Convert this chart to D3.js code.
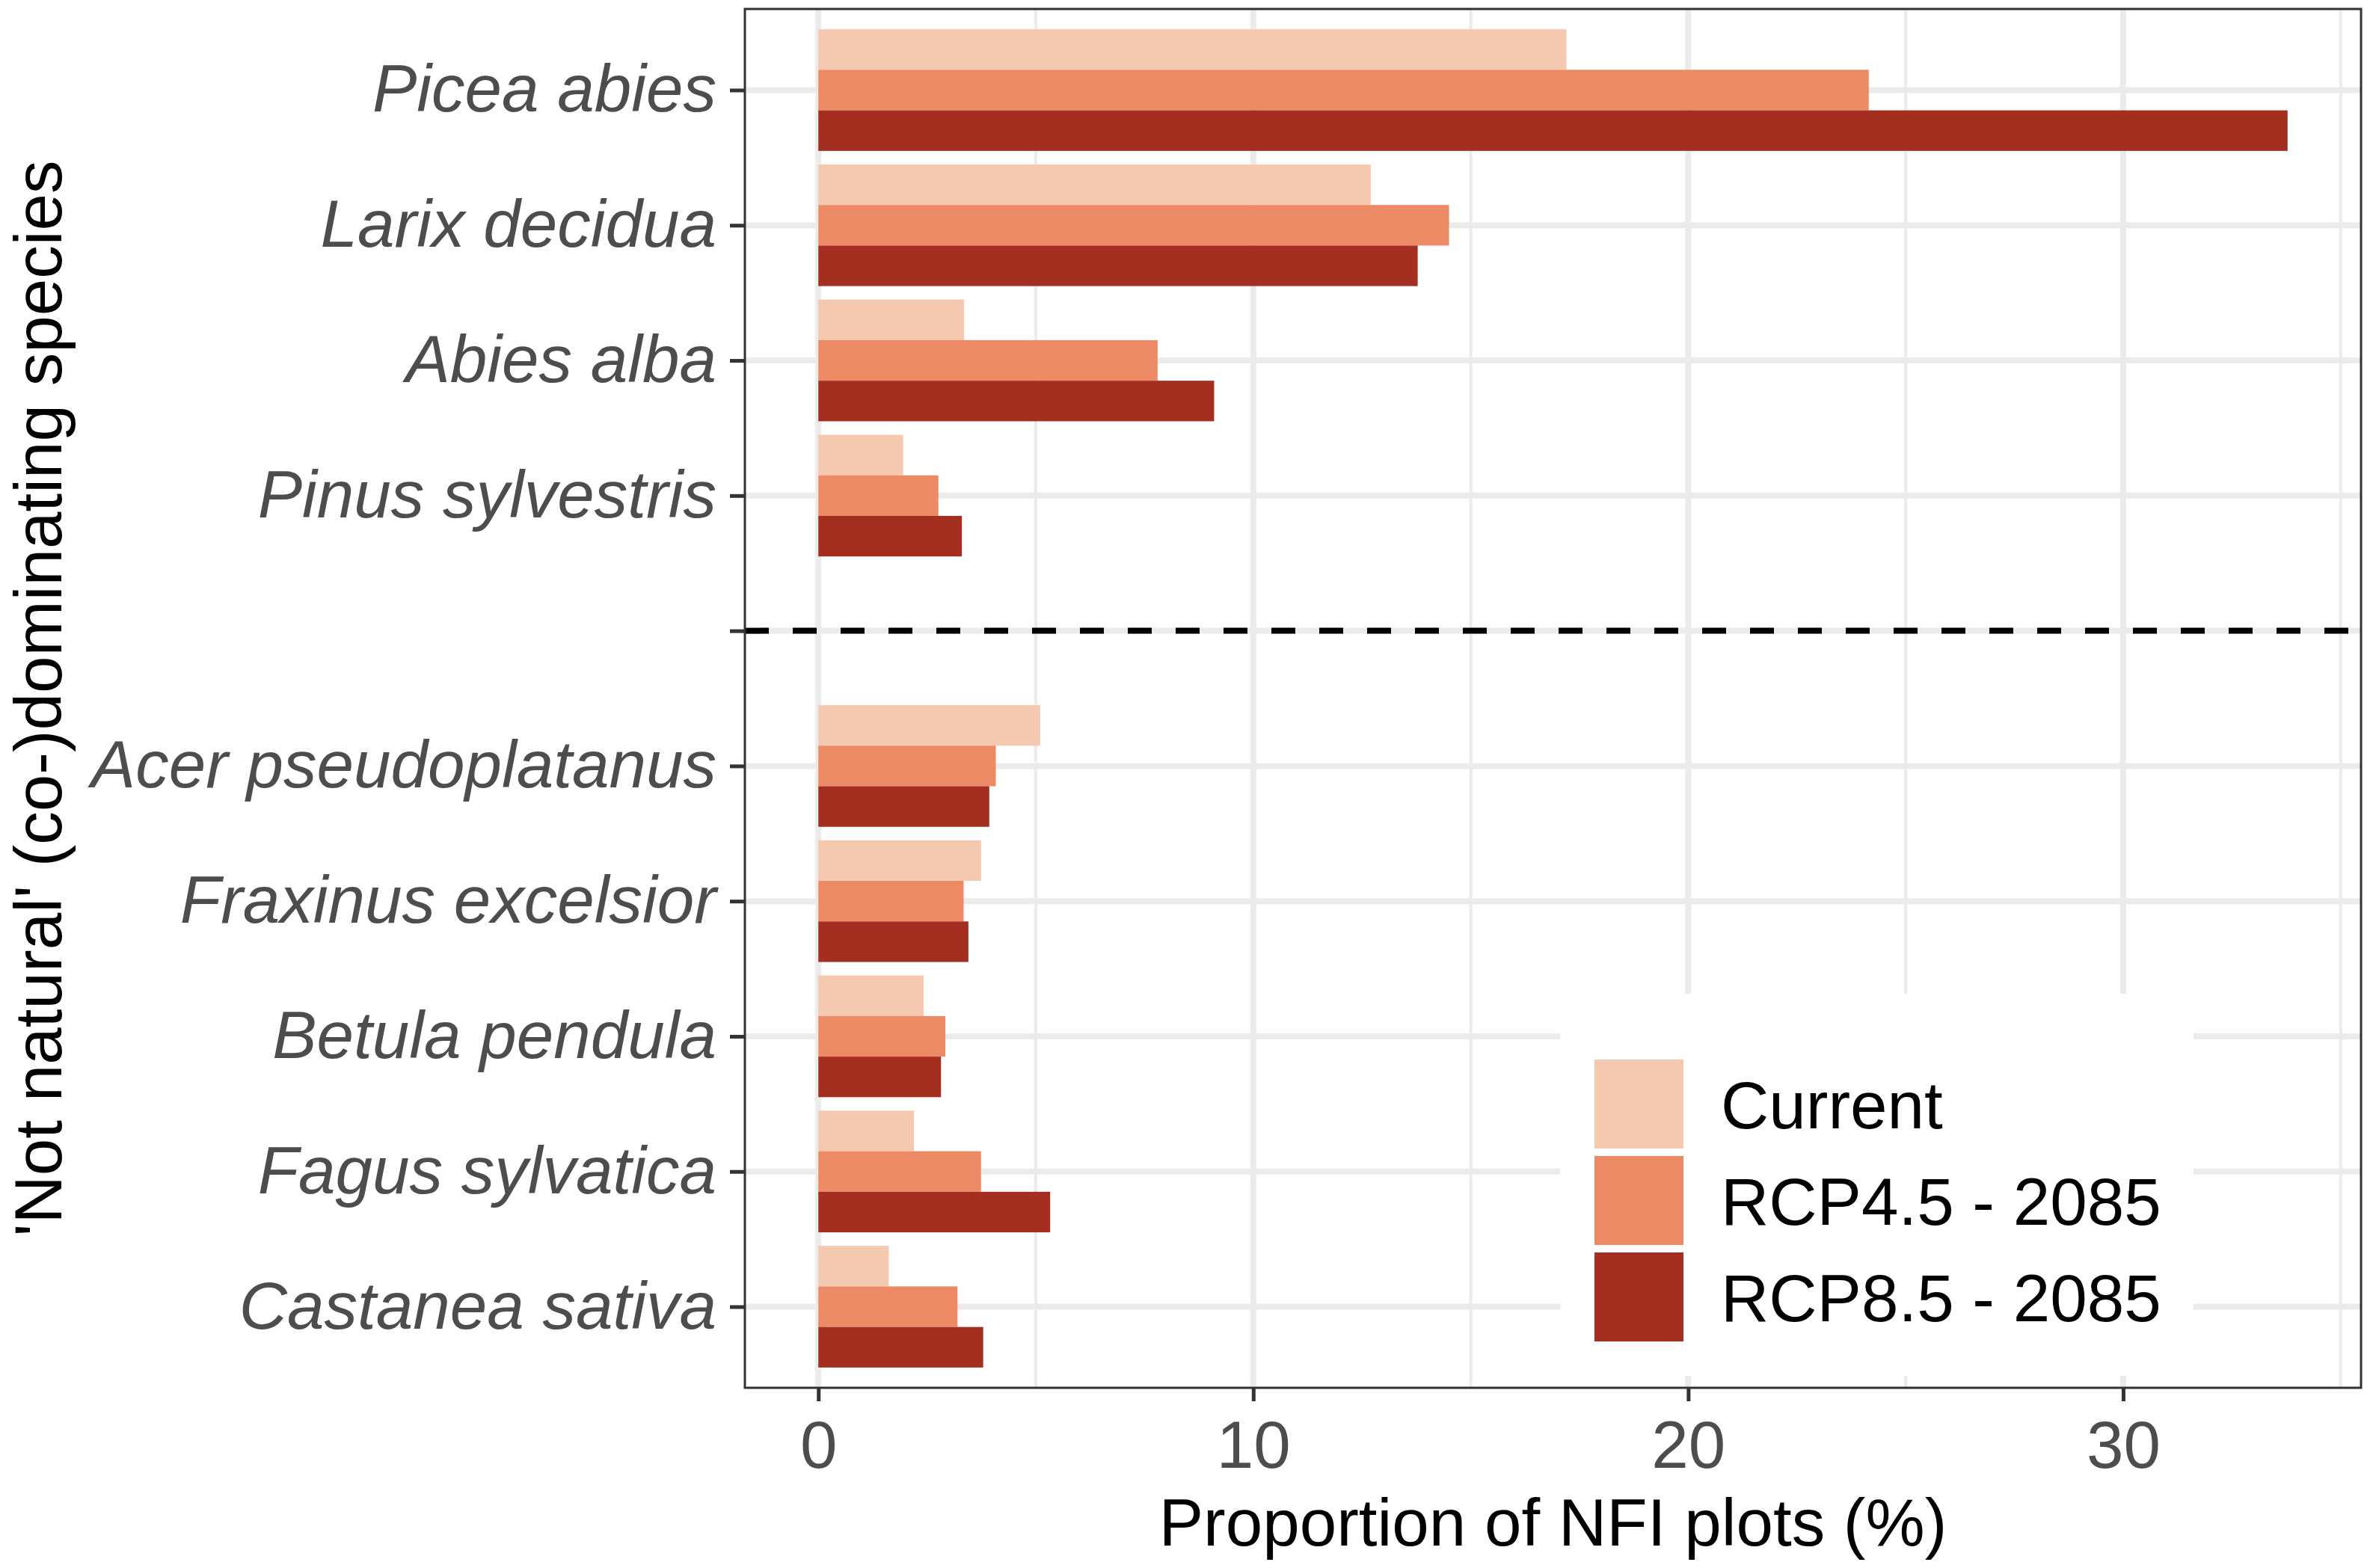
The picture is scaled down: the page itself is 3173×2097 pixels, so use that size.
<!DOCTYPE html>
<html>
<head>
<meta charset="utf-8">
<script src="https://cdn.jsdelivr.net/npm/d3@7"></script>
<style>
  body { margin: 0; background: #fff; }
  text { font-family: "Liberation Sans", Arial, sans-serif; }
</style>
</head>
<body>
<svg id="chart"></svg>
<script>
// species in plotting order, "" is the empty slot where the dashed line goes
const species = ["Picea abies", "Larix decidua", "Abies alba", "Pinus sylvestris",
  "", "Acer pseudoplatanus", "Fraxinus excelsior", "Betula pendula",
  "Fagus sylvatica", "Castanea sativa"];
const seriesNames = ["Current", "RCP4.5 - 2085", "RCP8.5 - 2085"];
const current = [17.2, 12.7, 3.35, 1.95, null, 5.1, 3.74, 2.42, 2.2, 1.62];
const rcp45   = [24.15, 14.5, 7.8, 2.76, null, 4.08, 3.34, 2.92, 3.74, 3.2];
const rcp85   = [33.78, 13.78, 9.1, 3.3, null, 3.93, 3.45, 2.82, 5.33, 3.79];
const xTicks = [0, 10, 20, 30];
const colors = ["#F5C8B0", "#EC8A65", "#A42E1F"];

const W = 3173, H = 2097;
const panel = { left: 996, right: 3157, top: 12, bottom: 1856 };

const svg = d3.select("#chart").attr("width", W).attr("height", H);

// long table of bars
const bars = [];
[current, rcp45, rcp85].forEach((vals, s) => {
  vals.forEach((v, i) => {
    if (v !== null) bars.push({ sp: species[i], series: seriesNames[s], value: v });
  });
});

const maxV = d3.max(bars, (d) => d.value);
const pad = maxV * 0.05;
const xScale = d3.scaleLinear().domain([-pad, maxV + pad]).range([panel.left, panel.right]);

const yScale = d3.scalePoint().domain(species).range([panel.top, panel.bottom]).padding(0.6);
const step = yScale.step();
const inner = d3.scaleBand().domain(seriesNames).range([-0.45 * step, 0.45 * step]);
const fill = d3.scaleOrdinal().domain(seriesNames).range(colors);

// grid
const grid = svg.append("g");
const minorTicks = d3.range(5, maxV + pad, 10);
grid.selectAll(".minor").data(minorTicks).join("line")
  .attr("x1", (d) => xScale(d)).attr("x2", (d) => xScale(d))
  .attr("y1", panel.top).attr("y2", panel.bottom)
  .attr("stroke", "#EBEBEB").attr("stroke-width", 4);
grid.selectAll(".majorx").data(xTicks).join("line")
  .attr("x1", (d) => xScale(d)).attr("x2", (d) => xScale(d))
  .attr("y1", panel.top).attr("y2", panel.bottom)
  .attr("stroke", "#EBEBEB").attr("stroke-width", 8);
grid.selectAll(".majory").data(species).join("line")
  .attr("x1", panel.left).attr("x2", panel.right)
  .attr("y1", (d) => yScale(d)).attr("y2", (d) => yScale(d))
  .attr("stroke", "#EBEBEB").attr("stroke-width", 8);

// bars
svg.append("g").selectAll("rect").data(bars).join("rect")
  .attr("x", xScale(0))
  .attr("y", (d) => yScale(d.sp) + inner(d.series))
  .attr("width", (d) => xScale(d.value) - xScale(0))
  .attr("height", inner.bandwidth())
  .attr("fill", (d) => fill(d.series));

// dashed separator between natural and not natural species
svg.append("line")
  .attr("x1", panel.left).attr("x2", panel.right)
  .attr("y1", yScale("")).attr("y2", yScale(""))
  .attr("stroke", "#000").attr("stroke-width", 8)
  .attr("stroke-dasharray", "32 32");

// legend
const lg = { x: 2086, y: 1329, w: 847, h: 511, keyX: 2132, keyY: 1412, keyStep: 129 };
const legend = svg.append("g");
legend.append("rect")
  .attr("x", lg.x).attr("y", lg.y).attr("width", lg.w).attr("height", lg.h)
  .attr("fill", "#fff");
seriesNames.forEach((name, i) => {
  const ky = lg.keyY + i * lg.keyStep;
  legend.append("rect")
    .attr("x", lg.keyX).attr("y", ky + 5)
    .attr("width", 119).attr("height", lg.keyStep - 10)
    .attr("fill", fill(name));
  legend.append("text")
    .attr("x", lg.keyX + 169).attr("y", ky + lg.keyStep / 2)
    .attr("dy", "0.36em")
    .attr("font-size", 89).attr("fill", "#000")
    .text(name);
});

// panel border
svg.append("rect")
  .attr("x", panel.left).attr("y", panel.top)
  .attr("width", panel.right - panel.left).attr("height", panel.bottom - panel.top)
  .attr("fill", "none").attr("stroke", "#333").attr("stroke-width", 3);

// axes
const xAxis = svg.append("g")
  .attr("transform", `translate(0, ${panel.bottom})`)
  .call(d3.axisBottom(xScale).tickValues(xTicks).tickSize(18).tickPadding(26));
xAxis.select(".domain").remove();
xAxis.selectAll(".tick line").attr("stroke", "#333").attr("stroke-width", 5);
xAxis.selectAll(".tick text")
  .attr("font-size", 89).attr("fill", "#4D4D4D")
  .attr("font-family", "Liberation Sans, Arial, sans-serif");

const yAxis = svg.append("g")
  .attr("transform", `translate(${panel.left}, 0)`)
  .call(d3.axisLeft(yScale).tickSize(20).tickPadding(18));
yAxis.select(".domain").remove();
yAxis.selectAll(".tick line").attr("stroke", "#333").attr("stroke-width", 5);
yAxis.selectAll(".tick text")
  .attr("font-size", 89).attr("fill", "#4D4D4D")
  .attr("font-style", "italic")
  .attr("font-family", "Liberation Sans, Arial, sans-serif");

// axis titles
svg.append("text")
  .attr("x", (panel.left + panel.right) / 2).attr("y", 2067)
  .attr("text-anchor", "middle").attr("font-size", 89).attr("fill", "#000")
  .text("Proportion of NFI plots (%)");

svg.append("text")
  .attr("transform", `translate(82, ${(panel.top + panel.bottom) / 2}) rotate(-90)`)
  .attr("text-anchor", "middle").attr("font-size", 89).attr("fill", "#000")
  .text("'Not natural' (co-)dominating species");
</script>
</body>
</html>
